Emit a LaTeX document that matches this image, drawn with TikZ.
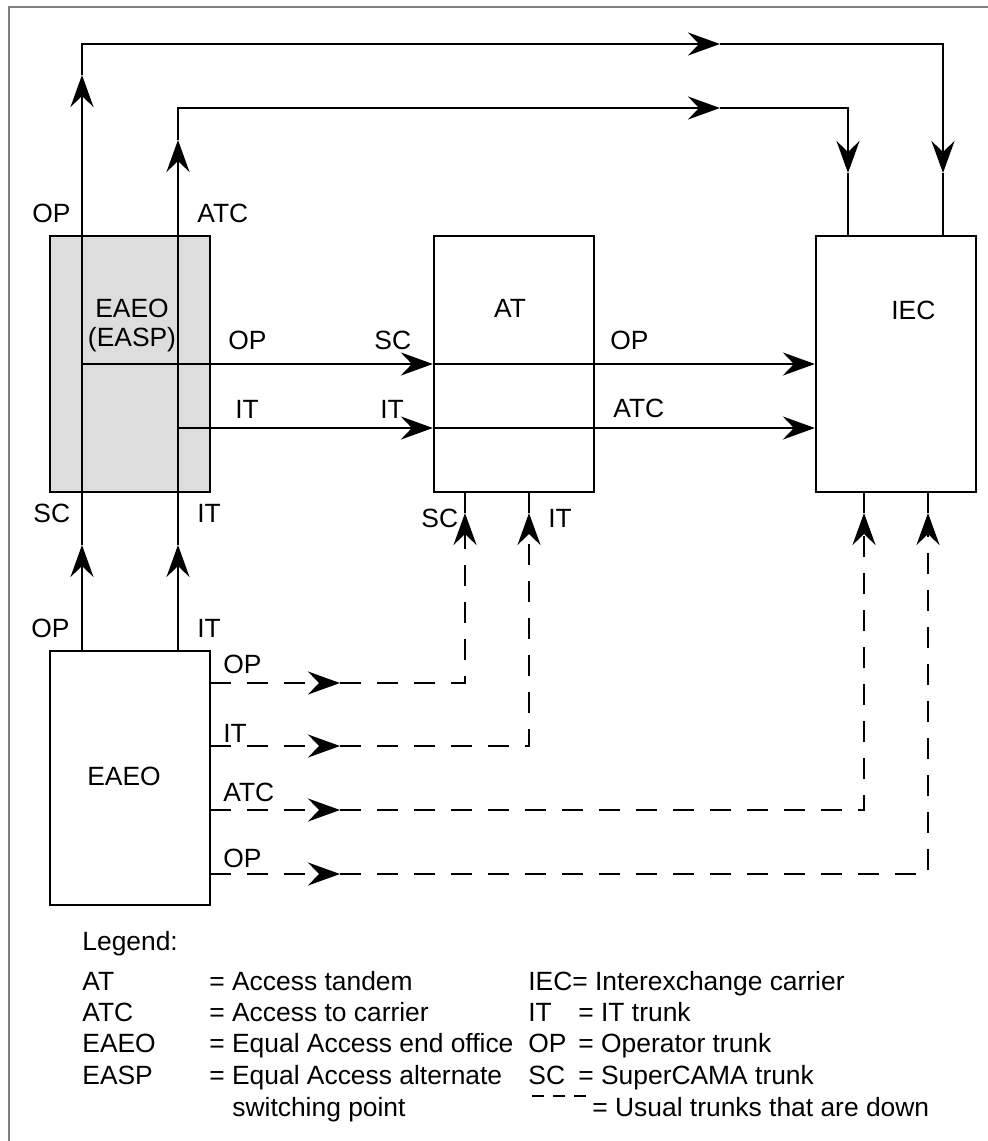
\documentclass[tikz,border=0pt]{standalone}
\usepackage{fontspec}
\setmainfont{Liberation Sans}
\usepackage{xcolor}
\usepackage{tikz}
\usetikzlibrary{arrows.meta,positioning,calc}

\definecolor{shade}{RGB}{221,221,221}
\definecolor{framegray}{RGB}{128,128,128}

\tikzset{
  office/.style={draw, line width=1.1pt, minimum width=80pt, minimum height=128pt, inner sep=0pt},
  trunk/.style={line width=1.4pt},
  downtrunk/.style={line width=1.4pt, dash pattern=on 10.5pt off 8pt},
  tip/.style={-{Stealth[length=16pt,width=11.5pt,inset=5.5pt]}},
  lbl/.style={inner sep=0pt, anchor=base west, font=\fontsize{13.2}{15.8}\selectfont},
  clbl/.style={lbl, anchor=base},
}

\begin{document}
\begin{tikzpicture}[x=0.5pt,y=-0.5pt]
  \useasboundingbox (0,0) rectangle (988,1141);
  \draw[framegray, line width=0.6pt] (9,7) rectangle (1000,1160);

  % offices
  \node[office, fill=shade] (easpbox) at (130,364) {};
  \node[office] (tandem) at (514,364) {};
  \node[office] (carrier) at (896,364) {};
  \node[office, minimum height=127pt] (endoff) at (130,778) {};

  % OP trunk round the top to IEC
  \coordinate (op1) at (82,545);
  \coordinate (op2) at (82,75);
  \coordinate (op3) at (720,44);
  \coordinate (op4) at (943,173);
  \draw[trunk,tip] (endoff.north -| op1) -- (op1);
  \draw[trunk,tip] (op1) -- (op2);
  \draw[trunk,tip] (op2) |- (op3);
  \draw[trunk,tip] (op3) -| (op4);
  \draw[trunk] (op4) -- (carrier.north -| op4);

  % ATC trunk round the top to IEC
  \coordinate (atc1) at (178,545);
  \coordinate (atc2) at (178,140);
  \coordinate (atc3) at (720,108);
  \coordinate (atc4) at (848,173);
  \draw[trunk,tip] (endoff.north -| atc1) -- (atc1);
  \draw[trunk,tip] (atc1) -- (atc2);
  \draw[trunk,tip] (atc2) |- (atc3);
  \draw[trunk,tip] (atc3) -| (atc4);
  \draw[trunk] (atc4) -- (carrier.north -| atc4);

  % OP and IT through the tandem
  \coordinate (opr) at (82,364);
  \coordinate (itr) at (178,428);
  \draw[trunk,tip] (opr) -- (tandem.west |- opr);
  \draw[trunk,tip] (tandem.west |- opr) -- (carrier.west |- opr);
  \draw[trunk,tip] (itr) -- (tandem.west |- itr);
  \draw[trunk,tip] (tandem.west |- itr) -- (carrier.west |- itr);

  % usual trunks that are down
  \foreach \n/\y/\x/\t in {1/683/465/tandem, 2/746/529/tandem, 3/810/864/carrier, 4/874/928/carrier} {
    \coordinate (ds\n) at (210,\y);
    \coordinate (dh\n) at (340,\y);
    \coordinate (dv\n) at (\x,513);
    \draw[downtrunk,tip] (ds\n) -- (dh\n);
    \draw[downtrunk,tip] (dh\n) -| (dv\n);
    \draw[downtrunk] (dv\n) -- (\t.south -| dv\n);
  }

  % labels
  \node[clbl] (lbleasp1) at (132,317) {EAEO};
  \node[clbl] (lbleasp2) at (132,346) {(EASP)};
  \node[clbl] (lblat) at (510,317) {AT};
  \node[lbl] (lbliec) at (891,319) {IEC};
  \node[clbl] (lbleaeo) at (124,785) {EAEO};

  \node[lbl] (t1) at (32,222) {OP};
  \node[lbl] (t2) at (197,222) {ATC};
  \node[lbl] (t3) at (228,349) {OP};
  \node[lbl] (t4) at (374,349) {SC};
  \node[lbl] (t5) at (235,418) {IT};
  \node[lbl] (t6) at (380,418) {IT};
  \node[lbl] (t7) at (610,349) {OP};
  \node[lbl] (t8) at (613,417) {ATC};
  \node[lbl] (t9) at (33,522) {SC};
  \node[lbl] (t10) at (197,522) {IT};
  \node[lbl] (t11) at (421,527) {SC};
  \node[lbl] (t12) at (548,527) {IT};
  \node[lbl] (t13) at (31,637) {OP};
  \node[lbl] (t14) at (197,637) {IT};
  \node[lbl] (t15) at (223,673) {OP};
  \node[lbl] (t16) at (223,742) {IT};
  \node[lbl] (t17) at (223,801) {ATC};
  \node[lbl] (t18) at (223,867) {OP};

  % legend
  \node[lbl] (legend) at (82,950) {Legend:};
  \foreach \a/\t/\y in {AT/= Access tandem/990, ATC/= Access to carrier/1021, EAEO/= Equal Access end office/1052, EASP/= Equal Access alternate/1084} {
    \node[lbl] (ab\a) at (82,\y) {\a};
    \node[lbl] (mean\a) at (209,\y) {\t};
  }
  \node[lbl] (meanEASPb) at (232,1116) {switching point};
  \node[lbl] (abIEC) at (528,990) {IEC= Interexchange carrier};
  \foreach \a/\t/\y in {IT/= IT trunk/1021, OP/= Operator trunk/1052, SC/= SuperCAMA trunk/1084} {
    \node[lbl] (ab\a) at (528,\y) {\a};
    \node[lbl] (mean\a) at (578,\y) {\t};
  }
  \coordinate (dashA) at (532,1096);
  \coordinate (dashB) at (587,1096);
  \draw[line width=1pt, dash pattern=on 6pt off 4.5pt] (dashA) -- (dashB);
  \node[lbl] (meandown) at (592,1116) {= Usual trunks that are down};
\end{tikzpicture}
\end{document}
